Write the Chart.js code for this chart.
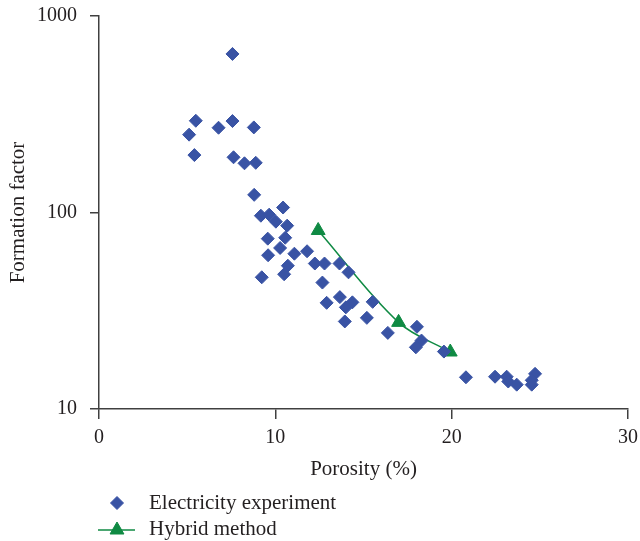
<!DOCTYPE html>
<html><head><meta charset="utf-8">
<script src="https://cdn.jsdelivr.net/npm/chart.js@4/dist/chart.umd.min.js"></script>
<style>html,body{margin:0;padding:0;background:#fff;}#wrap{width:640px;height:541px;position:relative;}</style>
</head><body><div id="wrap"><canvas id="c" width="640" height="541"></canvas></div>
<script>
const xTitle = 'Porosity (%)';
const yTitle = 'Formation factor';
const xTicks = [0, 10, 20, 30];
const yTicks = [10, 100, 1000];
const expLabel = 'Electricity experiment';
const hybLabel = 'Hybrid method';
const expPorosity = [7.57, 5.49, 5.11, 6.78, 7.57, 8.78, 5.41, 7.63, 8.25, 8.89,
  8.80, 10.44, 9.18, 9.65, 10.03, 10.67, 10.56, 9.57, 10.27, 9.59,
  11.08, 11.80, 10.71, 10.50, 9.23, 12.24, 12.79, 13.64, 14.15, 12.67,
  12.91, 13.66, 14.37, 14.00, 15.52, 15.19, 13.94, 16.38, 18.03, 18.29,
  17.97, 19.56, 20.81, 22.46, 23.12, 23.21, 23.69, 24.54, 24.73, 24.54];
const expFactor = [641, 293, 249, 270, 292, 271, 196, 191, 178, 179,
  123, 106, 96.3, 97.5, 89.8, 85.7, 74.4, 73.6, 66.0, 60.6,
  61.7, 63.5, 53.6, 48.5, 46.8, 55.0, 55.0, 55.0, 49.6, 44.0,
  34.7, 37.1, 34.9, 32.9, 35.1, 29.1, 27.9, 24.4, 26.2, 22.3,
  20.6, 19.6, 14.5, 14.6, 14.6, 13.8, 13.3, 13.3, 15.1, 14.0];
const hybPorosity = [12.43, 16.99, 19.92];
const hybFactor = [81, 27.6, 19.5];

const BLUE = '#3953a4';
const GREEN = '#0f8a43';
const AXIS = '#404040';
const TEXT = '#231f20';
const SERIF = '"Liberation Serif", "Times New Roman", serif';

function drawMarker(ctx, style, x, y, r, color) {
  ctx.beginPath();
  if (style === 'rectRot') {
    ctx.moveTo(x - r, y); ctx.lineTo(x, y - r); ctx.lineTo(x + r, y); ctx.lineTo(x, y + r);
  } else {
    const a = 2 * Math.PI / 3;
    ctx.moveTo(x, y - r);
    ctx.lineTo(x + Math.sin(a) * r, y - Math.cos(a) * r);
    ctx.lineTo(x + Math.sin(2 * a) * r, y - Math.cos(2 * a) * r);
  }
  ctx.closePath();
  ctx.fillStyle = color; ctx.strokeStyle = color; ctx.lineWidth = 1;
  ctx.fill(); ctx.stroke();
}

const legendPlugin = {
  id: 'stackLegend',
  afterDraw(chart) {
    const ctx = chart.ctx;
    ctx.save();
    ctx.font = '21px ' + SERIF;
    ctx.textBaseline = 'middle';
    ctx.textAlign = 'left';
    const rows = [503, 529];
    chart.data.datasets.forEach((ds, i) => {
      const y = rows[i];
      if (ds.showLine) {
        ctx.beginPath(); ctx.moveTo(98, y + 1); ctx.lineTo(135, y + 1);
        ctx.strokeStyle = ds.borderColor; ctx.lineWidth = 1.5; ctx.stroke();
      }
      drawMarker(ctx, ds.pointStyle, 117, y + (ds.showLine ? 1 : 0), ds.pointRadius, ds.pointBackgroundColor);
      ctx.fillStyle = TEXT;
      ctx.fillText(ds.label, 149, y);
    });
    ctx.restore();
  }
};

new Chart(document.getElementById('c'), {
  type: 'scatter',
  data: {
    datasets: [
      {
        label: expLabel,
        data: expPorosity.map((x, i) => ({x: x, y: expFactor[i]})),
        pointStyle: 'rectRot', pointRadius: 6.5, pointBorderWidth: 1,
        pointBackgroundColor: BLUE, pointBorderColor: BLUE, borderColor: BLUE, backgroundColor: BLUE,
        showLine: false
      },
      {
        label: hybLabel,
        data: hybPorosity.map((x, i) => ({x: x, y: hybFactor[i]})),
        pointStyle: 'triangle', pointRadius: 8, pointBorderWidth: 1,
        pointBackgroundColor: GREEN, pointBorderColor: GREEN, borderColor: GREEN, backgroundColor: GREEN,
        showLine: true, borderWidth: 1.5, tension: 0.35
      }
    ]
  },
  options: {
    responsive: false, animation: false, devicePixelRatio: 1,
    layout: {padding: {left: 0, right: 12, top: 16, bottom: 55}},
    plugins: {legend: {display: false}, tooltip: {enabled: false}},
    scales: {
      x: {
        type: 'linear', min: 0, max: 30,
        afterBuildTicks: (s) => { s.ticks = xTicks.map(v => ({value: v})); },
        afterFit: (s) => { s.height = 77; s.paddingLeft = 0; s.paddingRight = 0; },
        grid: {display: true, drawOnChartArea: false, drawTicks: true, tickLength: 10, color: AXIS, lineWidth: 1.5},
        border: {display: true, color: AXIS, width: 1.5},
        ticks: {color: TEXT, font: {family: SERIF, size: 20}, padding: 7, maxRotation: 0},
        title: {display: true, text: xTitle, color: TEXT, font: {family: SERIF, size: 21}, padding: {top: 0, bottom: 4}}
      },
      y: {
        type: 'logarithmic', min: 10, max: 1000,
        afterBuildTicks: (s) => { s.ticks = yTicks.map(v => ({value: v})); },
        afterFit: (s) => { s.width = 99; s.paddingTop = 0; s.paddingBottom = 0; },
        grid: {display: true, drawOnChartArea: false, drawTicks: true, tickLength: 9, color: AXIS, lineWidth: 1.5},
        border: {display: true, color: AXIS, width: 1.5},
        ticks: {color: TEXT, font: {family: SERIF, size: 20}, padding: 13, callback: (v) => String(v)},
        title: {display: true, text: yTitle, color: TEXT, font: {family: SERIF, size: 21}, padding: {top: 6, bottom: 0}}
      }
    }
  },
  plugins: [legendPlugin]
});
</script></body></html>
